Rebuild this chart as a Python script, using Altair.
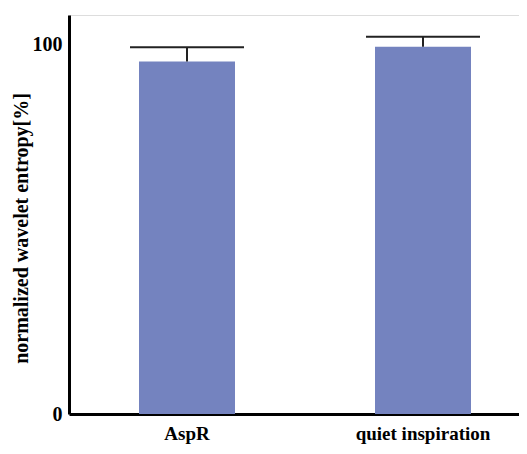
import altair as alt
import pandas as pd

categories = ["AspR", "quiet inspiration"]
means = [95.4, 99.4]
upper = [99.3, 102.1]

df = pd.DataFrame({"cat": categories, "mean": means, "upper": upper})

FONT = "Liberation Serif"

x = alt.X("cat:N", sort=categories,
          scale=alt.Scale(paddingInner=0, paddingOuter=0, range=[0, 472]),
          axis=alt.Axis(title=None, labelFont=FONT, labelFontWeight="bold",
                        labelFontSize=19, labelColor="black", labelAngle=0,
                        ticks=False, labelPadding=10, domainColor="black",
                        domainWidth=3))
yscale = alt.Scale(domain=[0, 108], nice=False)

bars = alt.Chart(df).mark_bar(color="#7483BF", size=96).encode(
    x=x,
    y=alt.Y("mean:Q", scale=yscale,
            axis=alt.Axis(values=[0, 100], grid=False, ticks=False,
                          title="normalized wavelet entropy[%]",
                          titleFont=FONT, titleFontWeight="bold", titleFontSize=20,
                          titleColor="black", titleX=-42, titleY=213,
                          titleBaseline="alphabetic",
                          labelFont=FONT, labelFontWeight="bold", labelFontSize=20,
                          labelColor="black", labelPadding=7,
                          domainColor="black", domainWidth=3)),
)

stem = alt.Chart(df).mark_rule(color="#222222", strokeWidth=2).encode(
    x=alt.X("cat:N", sort=categories),
    y=alt.Y("mean:Q", scale=yscale),
    y2="upper:Q",
)

cap = alt.Chart(df).mark_tick(color="#222222", thickness=2, size=114,
                              orient="horizontal", opacity=1).encode(
    x=alt.X("cat:N", sort=categories),
    y=alt.Y("upper:Q", scale=yscale),
)

chart = (bars + stem + cap).properties(
    width=450, height=399,
    autosize=alt.AutoSizeParams(type="none"),
    padding={"left": 61, "top": 7, "right": 0, "bottom": 32},
).configure_view(stroke=None).configure(background="white")

chart.save("out.html", embed_options={"renderer": "svg", "actions": False})
